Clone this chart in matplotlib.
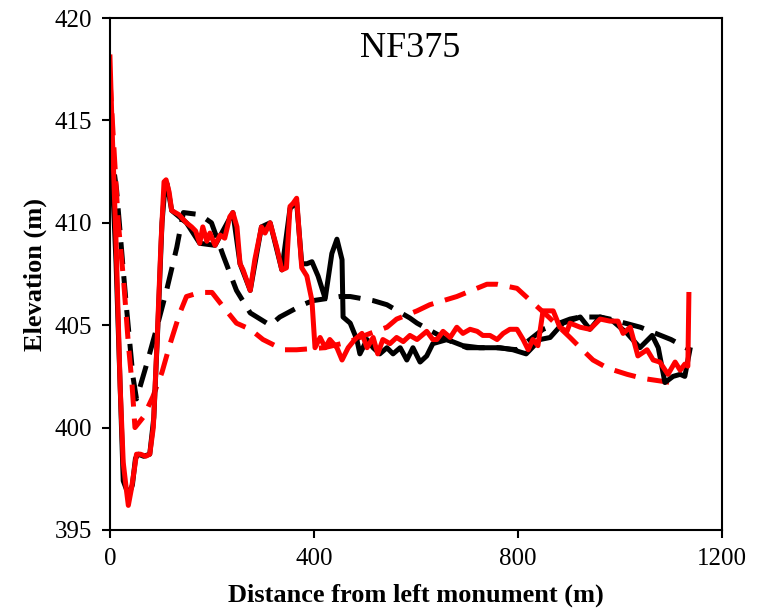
import matplotlib
matplotlib.use('Agg')
import matplotlib.pyplot as plt

# Perfil NF375: levantamientos (sólido) y modelos (discontinuo)

# Rojo sólido
x_rojo = [0, 5, 12, 20, 26, 32, 36, 42, 48, 52, 60, 70, 78, 85, 92, 100,
          106, 110, 116, 121, 135, 150, 160, 168, 176, 182, 190, 196, 206,
          216, 225, 235, 241, 249, 255, 261, 275, 284, 297, 304, 314, 327,
          337, 346, 353, 359, 366, 376, 386, 396, 402, 412, 422, 431, 445,
          455, 467, 480, 494, 504, 516, 525, 535, 549, 562, 575, 588, 602,
          621, 633, 641, 653, 667, 680, 692, 706, 720, 731, 745, 759, 771,
          784, 798, 810, 820, 829, 839, 849, 869, 882, 896, 902, 922, 941,
          961, 980, 996, 1006, 1020, 1035, 1053, 1065, 1078, 1094, 1108,
          1118, 1127, 1133, 1135]
y_rojo = [418.1, 414.0, 409.0, 402.0, 398.3, 397.0, 396.2, 397.0, 398.0,
          398.7, 398.7, 398.6, 398.7, 400.0, 404.0, 409.0, 412.0, 412.1,
          411.5, 410.6, 410.4, 410.0, 409.8, 409.6, 409.0, 409.8, 409.1,
          409.5, 408.9, 409.4, 409.25, 410.3, 410.5, 409.8, 408.0, 407.7,
          406.7, 408.2, 409.8, 409.5, 410.0, 408.8, 407.7, 407.8, 410.8,
          410.95, 411.2, 407.8, 407.4, 406.2, 403.9, 404.4, 403.9, 404.3,
          403.9, 403.3, 403.9, 404.3, 404.6, 403.9, 404.4, 403.6, 404.3,
          404.1, 404.4, 404.2, 404.5, 404.3, 404.7, 404.3, 404.3, 404.7,
          404.4, 404.9, 404.6, 404.8, 404.7, 404.5, 404.5, 404.3, 404.6,
          404.8, 404.8, 404.3, 403.8, 404.3, 404.0, 405.7, 405.7, 404.9,
          404.7, 405.1, 404.9, 404.8, 405.3, 405.2, 405.2, 404.6, 404.9,
          403.5, 403.8, 403.3, 403.2, 402.6, 403.2, 402.8, 403.1, 403.0,
          406.5]

# Negro sólido
x_negro = [0, 5, 12, 20, 26, 32, 38, 44, 50, 56, 66, 78, 86, 94, 102, 108,
           112, 121, 150, 176, 206, 241, 255, 275, 297, 314, 337, 353, 366,
           376, 386, 396, 408, 422, 435, 445, 455, 457, 471, 484, 490, 504,
           516, 529, 543, 555, 569, 582, 594, 608, 621, 633, 661, 692, 725,
           765, 790, 816, 843, 863, 888, 922, 941, 961, 986, 1014, 1039,
           1063, 1075, 1088, 1104, 1118, 1127, 1137]
y_negro = [414.0, 412.0, 408.0, 402.0, 397.4, 397.0, 396.8, 397.2, 398.5,
           398.7, 398.6, 398.7, 400.5, 405.0, 410.0, 411.8, 411.9, 410.6,
           410.0, 409.0, 408.9, 410.5, 408.0, 406.7, 409.8, 410.0, 407.7,
           410.7, 411.0, 408.0, 408.0, 408.1, 407.4, 406.3, 408.5, 409.2,
           408.2, 405.4, 405.1, 404.3, 403.6, 404.3, 403.9, 403.6, 403.9,
           403.6, 403.9, 403.3, 403.9, 403.2, 403.5, 404.1, 404.3, 404.0,
           403.9, 403.9, 403.8, 403.6, 404.3, 404.4, 405.1, 405.4, 404.8,
           405.4, 405.2, 404.6, 403.9, 404.5, 403.9, 402.2, 402.5, 402.6,
           402.5, 403.8]

# Negro discontinuo
x_negro_d = [0, 13, 26, 33, 45, 52, 72, 92, 111, 131, 144, 176, 199, 222,
             248, 275, 314, 333, 378, 398, 451, 471, 516, 543, 588, 602,
             660, 700, 759, 798, 849, 902, 922, 961, 980, 1040, 1100, 1137]
y_negro_d = [414.0, 411.6, 407.7, 405.7, 402.5, 401.4, 403.1, 404.9, 406.7,
             408.8, 410.5, 410.4, 410.0, 408.4, 406.7, 405.6, 405.0, 405.4,
             406.0, 406.2, 406.4, 406.4, 406.2, 406.0, 405.35, 405.1, 404.3,
             403.9, 403.9, 403.8, 404.8, 405.3, 405.4, 405.4, 405.3, 404.9,
             404.3, 403.8]

# Rojo discontinuo
x_rojo_d = [0, 16, 27, 36, 43, 49, 65, 84, 102, 118, 137, 150, 176, 200,
            222, 248, 275, 300, 340, 366, 420, 470, 510, 543, 562, 602, 627,
            680, 739, 759, 798, 820, 860, 902, 922, 947, 976, 1014, 1045,
            1100]
y_rojo_d = [417.0, 410.1, 407.1, 404.1, 402.2, 400.0, 400.5, 401.5, 402.7,
            404.1, 405.6, 406.4, 406.6, 406.6, 405.9, 405.1, 404.8, 404.3,
            403.8, 403.8, 403.9, 404.2, 404.6, 404.9, 405.3, 405.7, 406.0,
            406.4, 407.0, 407.0, 406.8, 406.3, 405.4, 404.4, 403.9, 403.3,
            402.9, 402.6, 402.4, 402.2]

plt.rcParams['font.family'] = ['Liberation Serif', 'DejaVu Serif']

fig = plt.figure(figsize=(7.61, 6.11), dpi=100)
ax = fig.add_axes([0.1445, 0.1326, 0.8043, 0.8379])

grosor = 3.6
guiones = (0, (4.4, 2.4))
ax.plot(x_negro_d, y_negro_d, color='black', lw=grosor, ls=guiones)
ax.plot(x_rojo_d, y_rojo_d, color='red', lw=grosor, ls=guiones)
ax.plot(x_negro, y_negro, color='black', lw=grosor)
ax.plot(x_rojo, y_rojo, color='red', lw=grosor)

ax.set_xlim(0, 1200)
ax.set_ylim(395, 420)
ax.set_xticks([0, 400, 800, 1200])
ax.set_yticks([395, 400, 405, 410, 415, 420])
ax.tick_params(direction='out', length=6, width=1.5, labelsize=18, pad=7)
for s in ax.spines.values():
    s.set_linewidth(1.5)

ax.set_xlabel('Distance from left monument (m)', fontsize=19,
              fontweight='bold', labelpad=10)
ax.set_ylabel('Elevation (m)', fontsize=19, fontweight='bold', labelpad=5)
ax.text(0.49, 0.94, 'NF375', transform=ax.transAxes, fontsize=26,
        ha='center', va='center')

fig.savefig('out.png', dpi=100)
